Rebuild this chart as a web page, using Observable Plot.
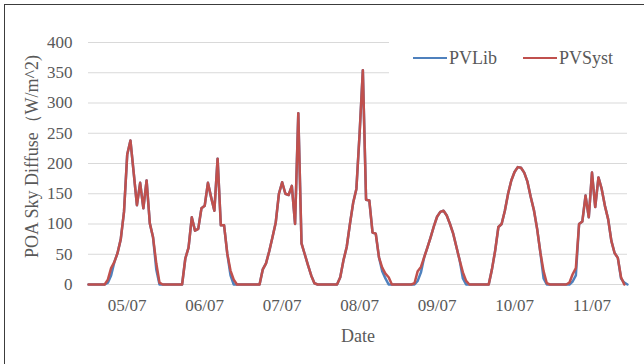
<!DOCTYPE html>
<html>
<head>
<meta charset="utf-8">
<script src="https://cdn.jsdelivr.net/npm/d3@7"></script>
<script src="https://cdn.jsdelivr.net/npm/@observablehq/plot@0.6"></script>
<style>
  html, body { margin: 0; padding: 0; background: #fff; }
  #chart { position: relative; width: 644px; height: 364px; overflow: hidden;
           font-family: "Liberation Serif", "Times New Roman", serif; color: #595959; }
  #chart svg { position: absolute; left: 0; top: 0; }
  #frame { position: absolute; left: 4px; top: 4px; width: 700px; height: 400px;
           border-left: 1.5px solid #3c3c3c; border-top: 1.5px solid #3c3c3c; pointer-events: none; }
  #legend { position: absolute; left: 389px; top: 34px; width: 252px; height: 48px; background: #fff; }
  .item { position: absolute; top: 0; height: 48px; display: flex; align-items: center; font-size: 18px; }
  .swatch { width: 34px; height: 2.5px; margin-right: 2px; }
</style>
</head>
<body>
<div id="chart">
  <div id="frame"></div>
</div>
<script>
// Day labels for the x axis (one per day, placed at noon)
const dayLabels = ["05/07", "06/07", "07/07", "08/07", "09/07", "10/07", "11/07"];

// y axis ticks, W/m^2
const yTicks = [0, 50, 100, 150, 200, 250, 300, 350, 400];

// Series names and colours
const seriesNames = ["PVLib", "PVSyst"];
const seriesColors = ["#4F81BD", "#C0504D"];

// Hourly POA sky diffuse, PVLib model (W/m^2), one row per day
const pvlib = [
  0,0,0,0,0,0,3,15,37,52,75,120,215,238,185,131,168,126,172,101,78,25,0,0,
  0,0,0,0,0,0,43,61,111,89,92,126,130,168,144,122,208,98,98,51,15,0,0,0,
  0,0,0,0,0,0,25,35,55,78,102,150,169,150,148,163,100,283,68,50,32,15,2,0,
  0,0,0,0,0,0,12,40,62,100,135,158,250,354,140,139,86,84,45,22,10,0,0,0,
  0,0,0,0,0,0,6,20,45,61,78,96,112,120,122,114,100,84,62,40,10,0,0,0,
  0,0,0,0,0,25,56,95,100,122,150,172,186,194,193,185,170,145,123,92,53,10,0,0,
  0,0,0,0,0,0,5,15,100,104,147,111,185,128,177,158,130,108,72,52,44,10,3,0
];

// Hourly POA sky diffuse, PVSyst model (W/m^2), one row per day
const pvsyst = [
  0,0,0,0,0,0,8,27,37,52,75,120,215,238,185,131,168,126,172,101,78,35,3,0,
  0,0,0,0,0,0,43,61,111,89,92,126,130,168,144,122,208,98,98,51,23,8,0,0,
  0,0,0,0,0,0,25,35,55,78,102,150,169,150,148,163,100,283,68,50,32,15,2,0,
  0,0,0,0,0,0,12,40,62,100,135,158,250,354,140,139,86,84,45,28,18,12,0,0,
  0,0,0,0,0,2,22,29,45,61,78,96,112,120,122,114,100,84,62,40,20,6,0,0,
  0,0,0,0,0,25,56,95,100,122,150,172,186,194,193,185,170,145,123,92,53,22,2,0,
  0,0,0,0,0,3,17,27,100,104,147,111,185,128,177,158,130,108,72,52,44,12,0
];

const hourTicks = dayLabels.map((_, d) => d * 24 + 12);

const chart = Plot.plot({
  width: 644,
  height: 364,
  marginLeft: 88,
  marginRight: 17,
  marginTop: 42,
  marginBottom: 80,
  style: { fontFamily: "'Liberation Serif', 'Times New Roman', serif", fontSize: "17px", color: "#595959", background: "transparent", overflow: "visible" },
  x: {
    domain: [0, pvlib.length - 1],
    ticks: hourTicks,
    tickFormat: (t) => dayLabels[(t - 12) / 24],
    tickSize: 0,
    tickPadding: 14,
    label: null
  },
  y: {
    domain: [0, 400],
    ticks: yTicks,
    tickSize: 0,
    tickPadding: 16,
    label: null
  },
  marks: [
    Plot.ruleY(yTicks, { stroke: "#d9d9d9", strokeWidth: 1 }),
    Plot.lineY(pvlib, { x: (d, i) => i, y: (d) => d, stroke: seriesColors[0], strokeWidth: 2.5 }),
    Plot.lineY(pvsyst, { x: (d, i) => i, y: (d) => d, stroke: seriesColors[1], strokeWidth: 2.5 }),
    Plot.text(["POA Sky Diffuse（W/m^2)"], {
      frameAnchor: "left", rotate: -90, dx: -56, dy: -7,
      textAnchor: "middle", lineAnchor: "middle", fontSize: 18, fill: "#595959"
    }),
    Plot.text(["Date"], {
      frameAnchor: "bottom", dy: 52, textAnchor: "middle", lineAnchor: "middle", fontSize: 18, fill: "#595959"
    })
  ]
});

const root = document.getElementById("chart");
root.insertBefore(chart, root.firstChild);

// Legend with line swatches
const legend = document.createElement("div");
legend.id = "legend";
const itemLefts = [24, 134];
seriesNames.forEach((name, k) => {
  const item = document.createElement("div");
  item.className = "item";
  item.style.left = itemLefts[k] + "px";
  const sw = document.createElement("span");
  sw.className = "swatch";
  sw.style.background = seriesColors[k];
  const label = document.createElement("span");
  label.textContent = name;
  item.appendChild(sw);
  item.appendChild(label);
  legend.appendChild(item);
});
root.appendChild(legend);
</script>
</body>
</html>
